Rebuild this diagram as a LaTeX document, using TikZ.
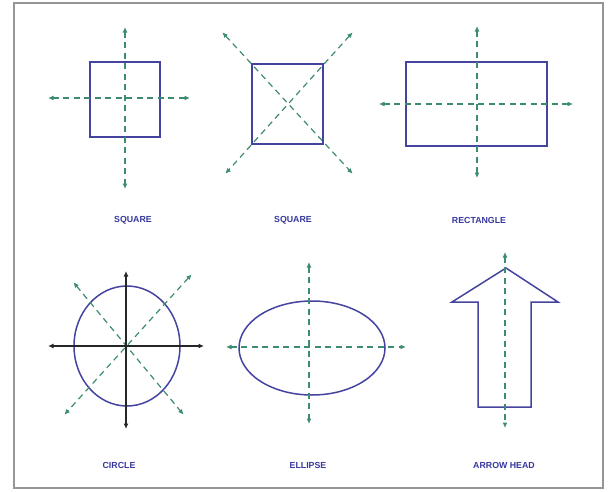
\documentclass[tikz,border=0pt]{standalone}
\usepackage{fontspec}
\setsansfont{Liberation Sans}
\usetikzlibrary{arrows.meta}

\definecolor{shapeblue}{RGB}{68,68,160}
\definecolor{axgreen}{RGB}{60,140,110}
\definecolor{framegray}{RGB}{150,150,150}
\definecolor{lblblue}{RGB}{55,55,160}

\begin{document}
\begin{tikzpicture}[
  x=1pt,y=-1pt,font=\sffamily\bfseries\fontsize{8.8}{10}\selectfont,
  >={Latex[length=5.5pt,width=5pt,sep=-1pt]},
  shp/.style={draw=shapeblue,line width=1.5pt,line join=miter},
  ax/.style={<->,axgreen,line width=1.2pt,dash pattern=on 6pt off 4.5pt},
  solidax/.style={<->,black!85,line width=1.2pt},
  lbl/.style={text=lblblue,inner sep=1pt},
]
\useasboundingbox (0,0) rectangle (611,491);
% frame
\draw[framegray,line width=1.8pt] (14,3) rectangle (603,488);

% square with straight axes
\draw[shp] (90,62) rectangle (160,137);
\coordinate (s1l) at (49,98);  \coordinate (s1r) at (189,98);
\coordinate (s1t) at (125,28); \coordinate (s1b) at (125,188);
\draw[ax] (s1l) -- (s1r);
\draw[ax] (s1t) -- (s1b);
\node[lbl] (sq1) at (133,220) {SQUARE};

% square with diagonal axes
\draw[shp] (252,64) rectangle (323,144);
\coordinate (s2a) at (223,33);  \coordinate (s2b) at (352,173);
\coordinate (s2c) at (352,33);  \coordinate (s2d) at (226,173);
\draw[ax] (s2a) -- (s2b);
\draw[ax] (s2c) -- (s2d);
\node[lbl] (sq2) at (293,220) {SQUARE};

% rectangle
\draw[shp] (406,62) rectangle (547,146);
\coordinate (r1l) at (380,104); \coordinate (r1r) at (572,104);
\coordinate (r1t) at (477,27);  \coordinate (r1b) at (477,177);
\draw[ax] (r1l) -- (r1r);
\draw[ax] (r1t) -- (r1b);
\node[lbl] (rect) at (479,220) {RECTANGLE};

% circle
\draw[shp] (127,346) ellipse [x radius=53,y radius=60];
\coordinate (c1l) at (49,346);  \coordinate (c1r) at (203,346);
\coordinate (c1t) at (126,272); \coordinate (c1b) at (126,428);
\coordinate (c1a) at (74,283);  \coordinate (c1b2) at (183,414);
\coordinate (c1c) at (191,275); \coordinate (c1d) at (65,414);
\draw[ax] (c1a) -- (c1b2);
\draw[ax] (c1c) -- (c1d);
\draw[solidax] (c1l) -- (c1r);
\draw[solidax] (c1t) -- (c1b);
\node[lbl] (circ) at (119,465) {CIRCLE};

% ellipse
\draw[shp] (312,348) ellipse [x radius=73,y radius=47];
\coordinate (e1l) at (227,347); \coordinate (e1r) at (405,347);
\coordinate (e1t) at (309,263); \coordinate (e1b) at (309,423);
\draw[ax] (e1l) -- (e1r);
\draw[ax] (e1t) -- (e1b);
\node[lbl] (ell) at (308,465) {ELLIPSE};

% arrow head
\draw[shp] (506,268) -- (558,302) -- (531,302) -- (531,407) -- (478,407)
  -- (478,302) -- (452,302) -- cycle;
\coordinate (a1t) at (505,253); \coordinate (a1b) at (505,427);
\draw[ax] (a1t) -- (a1b);
\node[lbl] (arr) at (504,465) {ARROW HEAD};
\end{tikzpicture}
\end{document}
